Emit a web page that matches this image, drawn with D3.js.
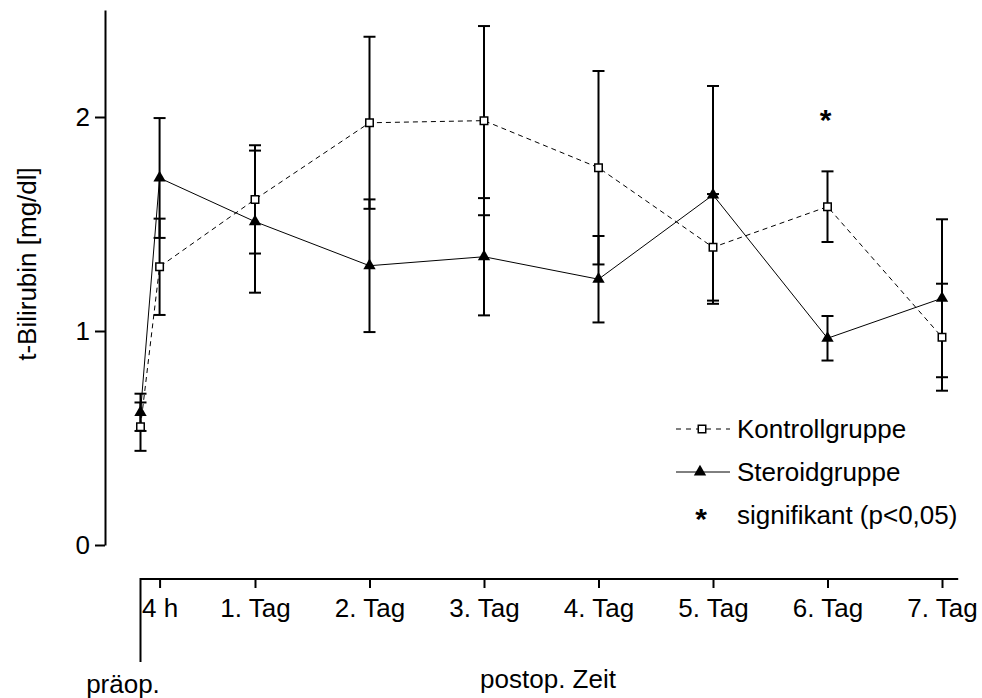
<!DOCTYPE html>
<html>
<head>
<meta charset="utf-8">
<script src="https://cdn.jsdelivr.net/npm/d3@7"></script>
<style>
  body { margin: 0; background: #fff; }
  text { font-family: "Liberation Sans", Arial, sans-serif; fill: #000; }
</style>
</head>
<body>
<svg id="chart"></svg>
<script>
// time in hours after op (präop = 0)
let times = [0, 4, 24, 48, 72, 96, 120, 144, 168]

let kontrollMean = [0.553, 1.30, 1.615, 1.973, 1.983, 1.763, 1.391, 1.581, 0.971]
let kontrollSD   = [0.113, 0.225, 0.253, 0.402, 0.442, 0.452, 0.249, 0.165, 0.250]

let steroidMean = [0.620, 1.715, 1.511, 1.305, 1.347, 1.242, 1.636, 0.966, 1.153]
let steroidSD   = [0.087, 0.280, 0.332, 0.310, 0.274, 0.202, 0.509, 0.104, 0.369]

let xTickValues = [4, 24, 48, 72, 96, 120, 144, 168]
let xTickLabels = ['4 h', '1. Tag', '2. Tag', '3. Tag', '4. Tag', '5. Tag', '6. Tag', '7. Tag']
let yTickValues = [0, 1, 2]

// significance marks
let sigTimes = [144]
let sigValues = [2.02]

let legendLabels = ['Kontrollgruppe', 'Steroidgruppe', 'signifikant (p<0,05)']

let width = 982
let height = 698
let fontSize = 26

let svg = d3.select('#chart')
    .attr('width', width)
    .attr('height', height)

let xScale = d3.scaleLinear().domain([0, 168]).range([140.5, 942])
let yScale = d3.scaleLinear().domain([0, 2.5]).range([545, 10])

const makeRows = (means, sds) => times.map((t, i) => ({ t: t, v: means[i], sd: sds[i] }))
let kontroll = makeRows(kontrollMean, kontrollSD)
let steroid = makeRows(steroidMean, steroidSD)

// y axis
let yAxis = d3.axisLeft(yScale)
    .tickValues(yTickValues)
    .tickFormat(d3.format('d'))
    .tickSize(10)
    .tickSizeOuter(0)
    .tickPadding(5)
let yg = svg.append('g')
    .attr('transform', 'translate(105, 0)')
    .call(yAxis)
yg.selectAll('path, line').attr('stroke', '#000').attr('stroke-width', 2)
yg.selectAll('text').style('font-size', fontSize + 'px').attr('fill', '#000')

// x axis
let xAxisY = 579
let xAxis = d3.axisBottom(xScale)
    .tickValues(xTickValues)
    .tickFormat((d, i) => xTickLabels[i])
    .tickSize(9)
    .tickSizeOuter(0)
    .tickPadding(11)
let xg = svg.append('g')
    .attr('transform', `translate(0, ${xAxisY})`)
    .call(xAxis)
xg.select('.domain').remove()
xg.selectAll('line').attr('stroke', '#000').attr('stroke-width', 2)
xg.selectAll('text').style('font-size', fontSize + 'px').attr('fill', '#000')
xg.append('line')
    .attr('x1', xScale(0)).attr('x2', xScale(171.4))
    .attr('y1', 0).attr('y2', 0)
    .attr('stroke', '#000').attr('stroke-width', 2)
// präop marker line
xg.append('line')
    .attr('x1', xScale(0)).attr('x2', xScale(0))
    .attr('y1', -1).attr('y2', 83)
    .attr('stroke', '#000').attr('stroke-width', 2)

// axis titles
svg.append('text')
    .attr('transform', 'translate(36, 264) rotate(-90)')
    .attr('text-anchor', 'middle')
    .style('font-size', fontSize + 'px')
    .text('t-Bilirubin [mg/dl]')
svg.append('text')
    .attr('x', 123).attr('y', 693)
    .attr('text-anchor', 'middle')
    .style('font-size', fontSize + 'px')
    .text('präop.')
svg.append('text')
    .attr('x', 548).attr('y', 688)
    .attr('text-anchor', 'middle')
    .style('font-size', fontSize + 'px')
    .text('postop. Zeit')

// error bars
const drawErrors = (rows) => {
    let g = svg.append('g')
    g.selectAll('line.stem')
        .data(rows).enter().append('line')
        .attr('x1', d => xScale(d.t)).attr('x2', d => xScale(d.t))
        .attr('y1', d => yScale(d.v - d.sd)).attr('y2', d => yScale(d.v + d.sd))
        .attr('stroke', '#000').attr('stroke-width', 2)
    g.selectAll('line.capTop')
        .data(rows).enter().append('line')
        .attr('x1', d => xScale(d.t) - 6).attr('x2', d => xScale(d.t) + 6)
        .attr('y1', d => yScale(d.v + d.sd)).attr('y2', d => yScale(d.v + d.sd))
        .attr('stroke', '#000').attr('stroke-width', 2)
    g.selectAll('line.capBot')
        .data(rows).enter().append('line')
        .attr('x1', d => xScale(d.t) - 6).attr('x2', d => xScale(d.t) + 6)
        .attr('y1', d => yScale(d.v - d.sd)).attr('y2', d => yScale(d.v - d.sd))
        .attr('stroke', '#000').attr('stroke-width', 2)
}
drawErrors(kontroll)
drawErrors(steroid)

// lines
let line = d3.line().x(d => xScale(d.t)).y(d => yScale(d.v))
svg.append('path')
    .datum(kontroll)
    .attr('d', line)
    .attr('fill', 'none').attr('stroke', '#000').attr('stroke-width', 1)
    .attr('stroke-dasharray', '5,4')
svg.append('path')
    .datum(steroid)
    .attr('d', line)
    .attr('fill', 'none').attr('stroke', '#000').attr('stroke-width', 1)

// markers
let squareSym = d3.symbol().type(d3.symbolSquare).size(56)
let triSym = d3.symbol().type(d3.symbolTriangle).size(66)
svg.selectAll('path.sq')
    .data(kontroll).enter().append('path')
    .attr('class', 'sq')
    .attr('d', squareSym)
    .attr('transform', d => `translate(${xScale(d.t)}, ${yScale(d.v)})`)
    .attr('fill', '#fff').attr('stroke', '#000').attr('stroke-width', 1.5)
svg.selectAll('path.tri')
    .data(steroid).enter().append('path')
    .attr('class', 'tri')
    .attr('d', triSym)
    .attr('transform', d => `translate(${xScale(d.t)}, ${yScale(d.v)})`)
    .attr('fill', '#000')

// significance stars
svg.selectAll('text.sig')
    .data(sigTimes).enter().append('text')
    .attr('class', 'sig')
    .attr('x', (d, i) => xScale(d) - 2)
    .attr('y', (d, i) => yScale(sigValues[i]) + 17)
    .attr('text-anchor', 'middle')
    .style('font-size', '30px')
    .style('font-weight', 'bold')
    .text('*')

// legend
let legend = svg.append('g').attr('transform', 'translate(676, 429)')
let rowGap = 43
legend.append('line')
    .attr('x1', 0).attr('x2', 54).attr('y1', 0).attr('y2', 0)
    .attr('stroke', '#000').attr('stroke-width', 1).attr('stroke-dasharray', '5,5')
legend.append('path')
    .attr('d', squareSym)
    .attr('transform', 'translate(26, 0)')
    .attr('fill', '#fff').attr('stroke', '#000').attr('stroke-width', 1.5)
legend.append('line')
    .attr('x1', 0).attr('x2', 54).attr('y1', rowGap).attr('y2', rowGap)
    .attr('stroke', '#000').attr('stroke-width', 1)
legend.append('path')
    .attr('d', triSym)
    .attr('transform', `translate(24, ${rowGap})`)
    .attr('fill', '#000')
legend.append('text')
    .attr('x', 25).attr('y', 2 * rowGap + 14)
    .attr('text-anchor', 'middle')
    .style('font-size', '30px')
    .style('font-weight', 'bold')
    .text('*')
legend.selectAll('text.lab')
    .data(legendLabels).enter().append('text')
    .attr('class', 'lab')
    .attr('x', 61)
    .attr('y', (d, i) => i * rowGap + 9)
    .style('font-size', fontSize + 'px')
    .text(d => d)
</script>
</body>
</html>
